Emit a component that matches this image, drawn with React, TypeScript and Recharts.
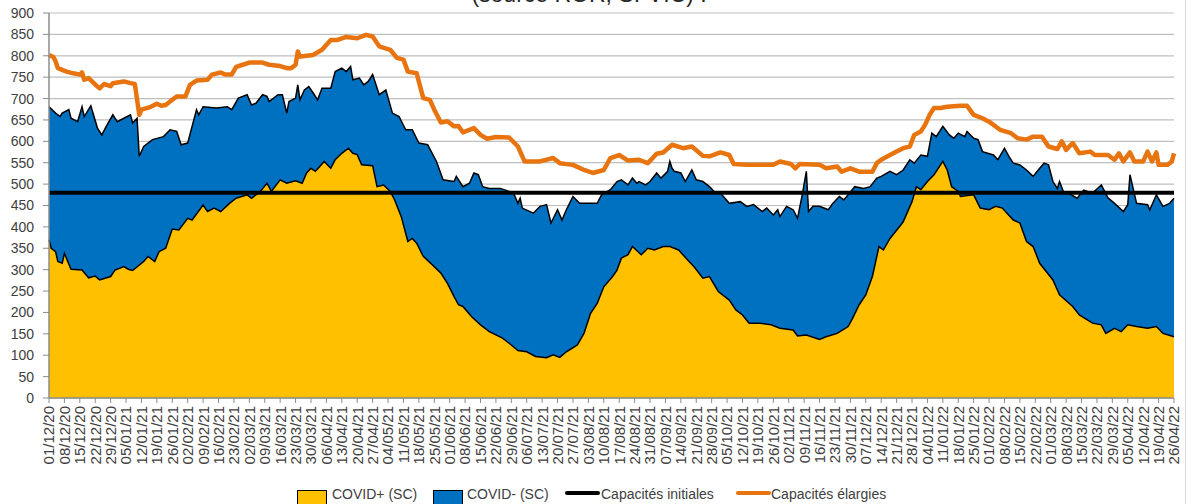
import React from 'react';
import {
  ComposedChart,
  Area,
  Line,
  XAxis,
  YAxis,
  CartesianGrid,
} from 'recharts';

// Dates des graduations (une par semaine, le mardi)
const tickLabels = [
  '01/12/20', '08/12/20', '15/12/20', '22/12/20', '29/12/20',
  '05/01/21', '12/01/21', '19/01/21', '26/01/21',
  '02/02/21', '09/02/21', '16/02/21', '23/02/21',
  '02/03/21', '09/03/21', '16/03/21', '23/03/21', '30/03/21',
  '06/04/21', '13/04/21', '20/04/21', '27/04/21',
  '04/05/21', '11/05/21', '18/05/21', '25/05/21',
  '01/06/21', '08/06/21', '15/06/21', '22/06/21', '29/06/21',
  '06/07/21', '13/07/21', '20/07/21', '27/07/21',
  '03/08/21', '10/08/21', '17/08/21', '24/08/21', '31/08/21',
  '07/09/21', '14/09/21', '21/09/21', '28/09/21',
  '05/10/21', '12/10/21', '19/10/21', '26/10/21',
  '02/11/21', '09/11/21', '16/11/21', '23/11/21', '30/11/21',
  '07/12/21', '14/12/21', '21/12/21', '28/12/21',
  '04/01/22', '11/01/22', '18/01/22', '25/01/22',
  '01/02/22', '08/02/22', '15/02/22', '22/02/22',
  '01/03/22', '08/03/22', '15/03/22', '22/03/22', '29/03/22',
  '05/04/22', '12/04/22', '19/04/22', '26/04/22',
];

const yTicks = [0, 50, 100, 150, 200, 250, 300, 350, 400, 450, 500, 550, 600, 650, 700, 750, 800, 850, 900];

// [jour depuis le 01/12/20, lits]
const covidPlus: [number, number][] = [
  [0, 370], [1, 350], [3, 342], [4, 319], [6, 315], [7, 338], [10, 301], [15, 299],
  [18, 281], [21, 285], [23, 276], [28, 284], [30, 299], [34, 307], [36, 301], [38, 298],
  [43, 319], [45, 331], [48, 319], [50, 342], [53, 350], [56, 395], [59, 393], [63, 420],
  [65, 416], [70, 451], [72, 436], [75, 444], [78, 436], [82, 455], [85, 467], [90, 475],
  [92, 467], [96, 483], [99, 502], [101, 483], [105, 510], [108, 502], [112, 508], [115, 502],
  [117, 526], [119, 537], [121, 530], [123, 541], [125, 553], [128, 537], [130, 557], [133, 572],
  [136, 584], [138, 572], [140, 569], [142, 545], [147, 543], [149, 494], [152, 498], [155, 483],
  [157, 463], [160, 424], [163, 366], [165, 373], [167, 362], [170, 331], [175, 307], [178, 292],
  [181, 268], [184, 237], [186, 218], [188, 214], [192, 190], [196, 171], [200, 155], [206, 140],
  [209, 128], [213, 111], [217, 108], [221, 97], [226, 94], [229, 101], [232, 95], [235, 108],
  [240, 124], [243, 151], [246, 198], [249, 221], [252, 260], [256, 284], [258, 299], [260, 327],
  [263, 335], [265, 354], [269, 335], [272, 350], [275, 346], [279, 354], [282, 354], [286, 346],
  [290, 323], [293, 307], [297, 280], [300, 284], [304, 249], [309, 229], [312, 206], [315, 194],
  [318, 175], [323, 175], [328, 171], [332, 163], [338, 159], [340, 145], [344, 147], [350, 137],
  [353, 143], [358, 151], [363, 167], [365, 186], [368, 218], [371, 241], [374, 284], [377, 354],
  [379, 346], [382, 373], [387, 405], [388, 412], [392, 459], [394, 494], [396, 487], [399, 506],
  [402, 522], [406, 553], [408, 533], [410, 494], [413, 483], [414, 471], [420, 475], [423, 444],
  [427, 440], [430, 448], [433, 444], [438, 416], [441, 409], [444, 366], [447, 354], [450, 315],
  [456, 276], [459, 241], [465, 214], [468, 194], [474, 175], [478, 171], [480, 151], [484, 163],
  [487, 155], [490, 171], [494, 167], [499, 163], [503, 167], [506, 151], [511, 143],
];

// total des lits occupés (haut de la zone bleue)
const totalSC: [number, number][] = [
  [0, 681], [3, 666], [5, 658], [6, 666], [9, 674], [10, 654], [13, 646], [15, 681],
  [16, 658], [19, 683], [22, 631], [24, 615], [26, 635], [29, 662], [31, 646], [34, 654],
  [37, 662], [38, 643], [40, 654], [41, 565], [43, 588], [47, 604], [52, 611], [55, 627],
  [58, 623], [60, 592], [63, 596], [65, 635], [67, 674], [68, 662], [70, 681], [76, 678],
  [81, 681], [83, 674], [86, 701], [90, 709], [92, 685], [94, 689], [97, 709], [99, 705],
  [100, 693], [104, 709], [106, 709], [108, 666], [109, 693], [112, 701], [113, 732], [114, 697],
  [116, 720], [118, 728], [120, 713], [122, 697], [124, 724], [128, 724], [130, 763], [133, 771],
  [135, 763], [137, 775], [138, 744], [141, 748], [143, 732], [145, 740], [147, 756], [150, 709],
  [153, 720], [156, 666], [159, 658], [162, 627], [165, 627], [168, 596], [172, 592], [176, 553],
  [179, 510], [184, 506], [185, 518], [188, 494], [191, 502], [193, 526], [195, 522], [197, 494],
  [200, 490], [205, 490], [209, 483], [211, 479], [213, 455], [214, 467], [215, 444], [220, 432],
  [223, 448], [226, 452], [228, 409], [231, 440], [233, 416], [235, 440], [238, 471], [241, 455],
  [246, 455], [249, 455], [251, 475], [255, 487], [258, 506], [260, 510], [263, 498], [265, 514],
  [267, 502], [268, 506], [271, 498], [273, 506], [276, 526], [278, 514], [281, 530], [282, 553],
  [283, 537], [284, 530], [287, 526], [289, 506], [292, 533], [294, 510], [297, 506], [300, 494],
  [302, 483], [305, 479], [309, 455], [314, 459], [317, 448], [320, 452], [324, 436], [326, 444],
  [329, 428], [331, 440], [332, 424], [335, 448], [338, 440], [340, 420], [342, 471], [344, 530],
  [345, 436], [347, 448], [350, 448], [354, 440], [356, 455], [359, 471], [361, 463], [363, 475],
  [366, 494], [370, 490], [373, 494], [376, 514], [378, 518], [382, 530], [385, 522], [388, 533],
  [391, 557], [393, 549], [396, 568], [399, 565], [401, 619], [403, 611], [406, 635], [409, 615],
  [411, 607], [413, 619], [416, 611], [417, 623], [420, 607], [422, 604], [424, 576], [429, 568],
  [431, 557], [434, 584], [436, 565], [438, 549], [441, 545], [444, 533], [447, 518], [450, 537],
  [452, 549], [454, 545], [456, 506], [458, 490], [459, 506], [461, 479], [463, 479], [467, 467],
  [470, 486], [474, 479], [478, 498], [481, 468], [484, 455], [488, 436], [490, 452], [491, 522],
  [494, 455], [499, 452], [500, 440], [503, 475], [506, 448], [509, 455], [511, 467],
];

const capInitiales: [number, number][] = [
  [0, 480], [511, 480],
];

const capElargies: [number, number][] = [
  [0, 802], [2, 797], [3, 787], [4, 771], [6, 767], [8, 763], [11, 759], [14, 756],
  [15, 761], [16, 744], [18, 748], [22, 728], [23, 724], [25, 734], [28, 729], [29, 736],
  [34, 740], [37, 736], [39, 734], [41, 662], [42, 674], [46, 680], [49, 688], [51, 683],
  [53, 685], [56, 697], [58, 705], [62, 705], [64, 732], [67, 742], [72, 744], [74, 756],
  [78, 761], [80, 756], [83, 756], [85, 774], [88, 779], [91, 784], [97, 784], [100, 779],
  [105, 776], [108, 771], [110, 771], [112, 779], [113, 810], [114, 798], [117, 800], [120, 802],
  [124, 814], [128, 837], [131, 837], [135, 844], [140, 841], [144, 849], [147, 845], [150, 822],
  [155, 814], [158, 795], [161, 791], [163, 763], [167, 759], [170, 701], [173, 697], [175, 674],
  [178, 644], [181, 647], [184, 635], [186, 636], [188, 621], [193, 631], [196, 615], [199, 606],
  [203, 610], [209, 609], [213, 588], [216, 553], [223, 553], [229, 561], [232, 549], [238, 545],
  [243, 533], [247, 526], [252, 533], [255, 561], [259, 568], [263, 555], [268, 557], [272, 549],
  [276, 571], [279, 574], [283, 592], [288, 584], [292, 588], [297, 566], [300, 565], [305, 574],
  [309, 568], [311, 547], [317, 545], [329, 545], [332, 553], [337, 547], [339, 537], [341, 547],
  [350, 545], [353, 537], [358, 541], [360, 529], [364, 537], [368, 529], [374, 529], [376, 549],
  [378, 557], [382, 568], [385, 576], [388, 584], [391, 588], [393, 615], [396, 623], [398, 639],
  [400, 662], [402, 678], [405, 678], [408, 681], [414, 683], [417, 683], [420, 662], [424, 654],
  [427, 646], [432, 627], [437, 619], [440, 607], [444, 604], [447, 611], [451, 611], [454, 588],
  [458, 582], [460, 600], [462, 580], [465, 596], [468, 572], [473, 576], [475, 568], [481, 568],
  [484, 557], [486, 572], [488, 553], [491, 574], [493, 553], [497, 553], [499, 576], [501, 553],
  [503, 574], [504, 545], [508, 545], [510, 553], [511, 572],
];

const YELLOW = '#FFC000';
const BLUE = '#0070C0';
const ORANGE = '#E8740F';
const GRID = '#BFBFBF';
const AXIS = '#8C8C8C';
const TEXT = '#404040';
const FONT = "'Liberation Sans', Arial, sans-serif";

const xTicks = tickLabels.map((_, i) => i * 7);

// table commune, chaque série n'a des valeurs qu'à ses propres jours
const buildTable = () => {
  const series: Record<string, [number, number][]> = {
    plus: covidPlus,
    total: totalSC,
    init: capInitiales,
    large: capElargies,
  };
  const rows = new Map<number, Record<string, number>>();
  Object.entries(series).forEach(([key, pts]) => {
    pts.forEach(([d, v]) => {
      const row = rows.get(d) || { day: d };
      row[key] = v;
      rows.set(d, row);
    });
  });
  return [...rows.values()].sort((a, b) => a.day - b.day);
};

const DateTick = ({ x, y, payload }: any) => (
  <text
    x={x}
    y={y}
    transform={`rotate(-90, ${x}, ${y})`}
    textAnchor="end"
    dy="0.36em"
    fill={TEXT}
    fontSize={15}
    fontFamily={FONT}
  >
    {tickLabels[Math.round(payload.value / 7)]}
  </text>
);

const legendItems = [
  { label: 'COVID+ (SC)', kind: 'box', color: YELLOW, left: 297, textLeft: 332 },
  { label: 'COVID- (SC)', kind: 'box', color: BLUE, left: 433, textLeft: 467 },
  { label: 'Capacités initiales', kind: 'line', color: '#000000', left: 565, textLeft: 601 },
  { label: 'Capacités élargies', kind: 'line', color: ORANGE, left: 736, textLeft: 771 },
];

export default function App() {
  const data = buildTable();

  return (
    <div
      style={{
        position: 'absolute',
        left: 0,
        top: 0,
        width: 1192,
        height: 504,
        overflow: 'hidden',
        background: '#ffffff',
        fontFamily: FONT,
      }}
    >
      <div
        style={{
          position: 'absolute',
          left: 0,
          width: 1192,
          top: -19,
          textAlign: 'center',
          fontSize: 23,
          color: '#262626',
          whiteSpace: 'nowrap',
          transform: 'translateX(-7px)',
        }}
      >
        (source ROR, SI-VIC) :
      </div>

      <div style={{ position: 'absolute', left: 1185, top: 0, width: 1, height: 504, background: '#D9D9D9' }} />

      <div style={{ position: 'absolute', left: 0, top: 0 }}>
        <ComposedChart
          width={1192}
          height={504}
          data={data}
          margin={{ top: 13, right: 18, bottom: 0, left: 0 }}
        >
          <CartesianGrid vertical={false} stroke={GRID} strokeWidth={1.2} />
          <XAxis
            dataKey="day"
            type="number"
            domain={[0, 511]}
            ticks={xTicks}
            interval={0}
            height={106}
            tick={<DateTick />}
            tickSize={5}
            tickMargin={3}
            axisLine={{ stroke: AXIS, strokeWidth: 1.5 }}
            tickLine={{ stroke: AXIS }}
          />
          <YAxis
            type="number"
            domain={[0, 900]}
            ticks={yTicks}
            interval={0}
            width={49}
            tickSize={6}
            tickMargin={9}
            axisLine={{ stroke: AXIS, strokeWidth: 1.5 }}
            tickLine={{ stroke: AXIS }}
            tick={{ fill: TEXT, fontSize: 14, fontFamily: FONT }}
          />
          <Area
            dataKey="total"
            name="COVID- (SC)"
            type="linear"
            fill={BLUE}
            fillOpacity={1}
            stroke="#000000"
            strokeWidth={1.5}
            connectNulls
            dot={false}
            activeDot={false}
            isAnimationActive={false}
          />
          <Area
            dataKey="plus"
            name="COVID+ (SC)"
            type="linear"
            fill={YELLOW}
            fillOpacity={1}
            stroke="#000000"
            strokeWidth={1.5}
            connectNulls
            dot={false}
            activeDot={false}
            isAnimationActive={false}
          />
          <Line
            dataKey="init"
            name="Capacités initiales"
            type="linear"
            stroke="#000000"
            strokeWidth={4}
            connectNulls
            dot={false}
            activeDot={false}
            isAnimationActive={false}
          />
          <Line
            dataKey="large"
            name="Capacités élargies"
            type="linear"
            stroke={ORANGE}
            strokeWidth={4.5}
            strokeLinejoin="round"
            connectNulls
            dot={false}
            activeDot={false}
            isAnimationActive={false}
          />
        </ComposedChart>
      </div>

      {legendItems.map((item) => (
        <React.Fragment key={item.label}>
          {item.kind === 'box' ? (
            <div
              style={{
                position: 'absolute',
                left: item.left,
                top: 490,
                width: 30,
                height: 20,
                background: item.color,
                border: '1px solid #000000',
                boxSizing: 'border-box',
              }}
            />
          ) : (
            <div
              style={{
                position: 'absolute',
                left: item.left,
                top: 491,
                width: 35,
                height: 4,
                borderRadius: 2,
                background: item.color,
              }}
            />
          )}
          <div
            style={{
              position: 'absolute',
              left: item.textLeft,
              top: 486,
              fontSize: 14,
              fontFamily: FONT,
              color: TEXT,
              whiteSpace: 'nowrap',
            }}
          >
            {item.label}
          </div>
        </React.Fragment>
      ))}
    </div>
  );
}
